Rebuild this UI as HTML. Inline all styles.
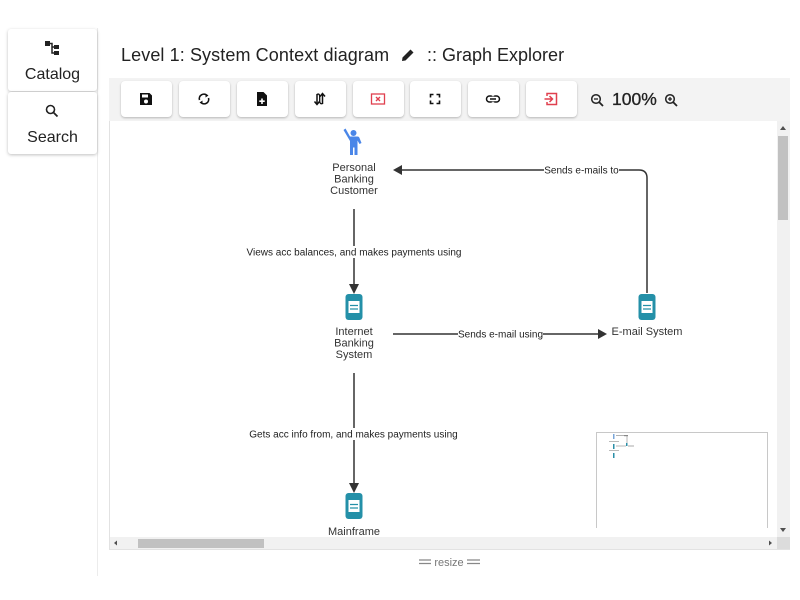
<!DOCTYPE html>
<html><head><meta charset="utf-8"><style>
*{box-sizing:border-box;margin:0;padding:0}
html,body{width:800px;height:600px;overflow:hidden;background:#fff;font-family:"Liberation Sans",Arial,sans-serif;color:#222}
.abs{position:absolute}
.card{position:absolute;left:8px;width:89px;background:#fff;box-shadow:0 1px 3px rgba(0,0,0,0.25);border-radius:3px;text-align:center;font-size:16px;color:#222}
.btn{position:absolute;top:81px;width:51px;height:36px;background:#fff;border-radius:4px;box-shadow:0 1px 2px rgba(0,0,0,0.25)}
.btn svg{position:absolute;left:17px;top:10px}
</style></head><body>
<!-- sidebar -->
<div class="abs" style="left:97px;top:28px;width:1px;height:548px;background:#ececec"></div>
<div class="card" style="top:29px;height:62px">
  <svg class="abs" style="left:37px;top:12px" width="15" height="14" viewBox="0 0 15 14"><rect x="0" y="0" width="5" height="5" fill="#222"/><rect x="9" y="4" width="5" height="4" fill="#222"/><rect x="9" y="10" width="5" height="4" fill="#222"/><path d="M5 2.5H7V12H9M7 6H9" stroke="#222" stroke-width="1.5" fill="none"/></svg>
  <div class="abs" style="left:0;width:89px;top:37px;line-height:18px">Catalog</div>
</div>
<div class="card" style="top:92px;height:62px">
  <svg class="abs" style="left:37px;top:12px" width="14" height="14" viewBox="0 0 14 14"><circle cx="5.5" cy="5.5" r="4" stroke="#222" stroke-width="1.6" fill="none"/><path d="M8.5 8.5L12.5 12.5" stroke="#222" stroke-width="1.8"/></svg>
  <div class="abs" style="left:0;width:89px;top:37px;line-height:18px">Search</div>
</div>
<!-- title -->
<div class="abs" style="left:121px;top:44px;font-size:18px;line-height:22px;color:#222;white-space:nowrap;letter-spacing:0.1px">Level 1: System Context diagram</div>
<svg class="abs" style="left:400px;top:47px" width="16" height="16" viewBox="0 0 16 16"><path d="M2 14L2.5 10.5L10.5 2.5L13.5 5.5L5.5 13.5Z" fill="#222"/></svg>
<div class="abs" style="left:427px;top:44px;font-size:18px;line-height:22px;color:#222;white-space:nowrap">:: Graph Explorer</div>
<!-- toolbar -->
<div class="abs" style="left:109px;top:78px;width:681px;height:43px;background:#f3f3f3"></div>
<div class="btn" style="left:121px"><svg width="16" height="16" viewBox="0 0 16 16"><path d="M2 2H11.5L14 4.5V14H2Z" fill="#111"/><rect x="4" y="3.5" width="6" height="3" fill="#fff"/><circle cx="8" cy="10.5" r="2" fill="#fff"/></svg></div>
<div class="btn" style="left:179px"><svg width="16" height="16" viewBox="0 0 16 16"><path d="M3.5 9A4.5 4.5 0 0 1 11 4.5" stroke="#111" stroke-width="1.6" fill="none"/><path d="M12.5 7A4.5 4.5 0 0 1 5 11.5" stroke="#111" stroke-width="1.6" fill="none"/><path d="M9.5 2.5L12.5 4.5L9.5 6.5Z" fill="#111"/><path d="M6.5 9.5L3.5 11.5L6.5 13.5Z" fill="#111"/></svg></div>
<div class="btn" style="left:237px"><svg width="16" height="16" viewBox="0 0 16 16"><path d="M3 1H9.5L13 4.5V15H3Z" fill="#111"/><path d="M8 7.5V13M5.3 10.2H10.7" stroke="#fff" stroke-width="1.6"/></svg></div>
<div class="btn" style="left:295px"><svg width="16" height="16" viewBox="0 0 16 16"><path d="M5 3V13M10.5 13V3" stroke="#111" stroke-width="1.5"/><path d="M2.5 10.5L5 13.5L7.5 10.5M8 5.5L10.5 2.5L13 5.5" stroke="#111" stroke-width="1.5" fill="none"/><path d="M5 3.5Q7.7 2 7.7 6V10Q7.7 13.5 10.5 12.5" stroke="#111" stroke-width="1.3" fill="none"/></svg></div>
<div class="btn" style="left:353px"><svg width="16" height="16" viewBox="0 0 16 16"><rect x="1.5" y="3" width="13" height="10" stroke="#e0404f" stroke-width="1.3" fill="none"/><path d="M6 6L10 10M10 6L6 10" stroke="#e0404f" stroke-width="1.4"/></svg></div>
<div class="btn" style="left:410px"><svg width="16" height="16" viewBox="0 0 16 16"><path d="M3.5 6.5V3.5H6.5M9.5 3.5H12.5V6.5M12.5 9.5V12.5H9.5M6.5 12.5H3.5V9.5" stroke="#111" stroke-width="1.6" fill="none"/></svg></div>
<div class="btn" style="left:468px"><svg width="16" height="16" viewBox="0 0 16 16"><rect x="1.5" y="5" width="7" height="6" rx="3" stroke="#111" stroke-width="1.5" fill="none"/><rect x="7.5" y="5" width="7" height="6" rx="3" stroke="#111" stroke-width="1.5" fill="none"/><rect x="6.5" y="5.6" width="3" height="4.8" fill="#fff"/><path d="M5 8H11" stroke="#111" stroke-width="1.5"/></svg></div>
<div class="btn" style="left:526px"><svg width="16" height="16" viewBox="0 0 16 16"><path d="M4 5V2.5H13.5V13.5H4V11" stroke="#e0404f" stroke-width="1.5" fill="none"/><path d="M1.5 8H9.5M6.5 5L9.5 8L6.5 11" stroke="#e0404f" stroke-width="1.5" fill="none"/></svg></div>
<svg class="abs" style="left:590px;top:93px" width="15" height="15" viewBox="0 0 15 15"><circle cx="6" cy="6" r="4.3" stroke="#222" stroke-width="1.5" fill="none"/><path d="M9 9L13 13" stroke="#222" stroke-width="1.8"/><path d="M4 6H8" stroke="#222" stroke-width="1.3"/></svg>
<div class="abs" style="left:612px;top:89px;font-size:17.5px;line-height:20px;color:#222;-webkit-text-stroke:0.3px #222">100%</div>
<svg class="abs" style="left:664px;top:93px" width="15" height="15" viewBox="0 0 15 15"><circle cx="6" cy="6" r="4.3" stroke="#222" stroke-width="1.5" fill="none"/><path d="M9 9L13 13" stroke="#222" stroke-width="1.8"/><path d="M4 6H8M6 4V8" stroke="#222" stroke-width="1.3"/></svg>
<!-- canvas -->
<div class="abs" style="left:109px;top:121px;width:681px;height:429px;border:1px solid #e2e2e2;border-top:none;background:#fff"></div>
<!-- scrollbars -->
<div class="abs" style="left:777px;top:121px;width:13px;height:416px;background:#f1f1f1"></div>
<div class="abs" style="left:778px;top:136px;width:10px;height:84px;background:#c1c1c1"></div>
<div class="abs" style="left:110px;top:537px;width:667px;height:12px;background:#f1f1f1"></div>
<div class="abs" style="left:138px;top:539px;width:126px;height:9px;background:#c1c1c1"></div>
<div class="abs" style="left:777px;top:537px;width:13px;height:12px;background:#dcdcdc"></div>
<svg class="abs" style="left:0;top:0" width="800" height="600">
  <path d="M780 130L783 126L786 130Z" fill="#505050"/>
  <path d="M780 528L783 532L786 528Z" fill="#505050"/>
  <path d="M117 540.5L114 543L117 545.5Z" fill="#505050"/>
  <path d="M769 540.5L772 543L769 545.5Z" fill="#505050"/>
</svg>
<!-- minimap -->
<div class="abs" style="left:596px;top:432px;width:172px;height:96px;border:1px solid #c8c8c8;border-bottom:none;background:#fff"></div>
<svg class="abs" style="left:596px;top:432px" width="172" height="40">
  <rect x="17" y="2" width="1.5" height="5" fill="#7aa6d8"/><path d="M20 3.5H31V13" stroke="#999" stroke-width="0.7" fill="none"/><rect x="28" y="3" width="4" height="1.2" fill="#888"/>
  <rect x="13" y="9" width="10" height="0.8" fill="#aaa"/>
  <rect x="17" y="12" width="1.5" height="5" fill="#2a8fa8"/><path d="M20 14H30" stroke="#999" stroke-width="0.7"/><rect x="30" y="11" width="1.5" height="3" fill="#2a8fa8"/><rect x="32" y="13.5" width="6" height="1" fill="#aaa"/>
  <rect x="13" y="18" width="10" height="0.8" fill="#aaa"/>
  <rect x="17" y="21" width="1.5" height="5" fill="#2a8fa8"/>
</svg>
<!-- diagram -->
<svg class="abs" style="left:0;top:0" width="800" height="600" font-family="Liberation Sans, Arial, sans-serif">
  <defs><clipPath id="c"><rect x="110" y="121" width="667" height="416"/></clipPath></defs>
  <g clip-path="url(#c)">
    <g stroke="#333" stroke-width="1.5" fill="none">
      <path d="M354 209V286"/>
      <path d="M393 334H599"/>
      <path d="M647 293V178Q647 170 639 170H401"/>
      <path d="M354 373V485"/>
    </g>
    <g fill="#333">
      <path d="M349 284H359L354 294Z"/>
      <path d="M598 329V339L607 334Z"/>
      <path d="M402 165V175L393 170Z"/>
      <path d="M349 483H359L354 493Z"/>
    </g>
    <g font-size="10" fill="#222" text-anchor="middle">
      <rect x="246" y="246" width="216" height="12" fill="#fff"/>
      <text x="354" y="255.5">Views acc balances, and makes payments using</text>
      <rect x="458" y="328" width="85" height="12" fill="#fff"/>
      <text x="500.5" y="337.5">Sends e-mail using</text>
      <rect x="544" y="164" width="75" height="12" fill="#fff"/>
      <text x="581.5" y="173.5">Sends e-mails to</text>
      <rect x="248" y="428" width="211" height="12" fill="#fff"/>
      <text x="353.5" y="437.5">Gets acc info from, and makes payments using</text>
    </g>
    <g fill="#4a86e8">
      <circle cx="353.5" cy="133" r="3"/>
      <path d="M343.5 130L345.5 128.5L350 136.5H357.5Q359 136.5 359.5 138L361.5 143L359.5 144L357.5 140.5V155H354.5V147.5H353V155H350V141Z"/>
    </g>
    <g>
      <rect x="345.5" y="294" width="17" height="26" rx="3" fill="#2490a8"/>
      <rect x="348.5" y="301" width="11" height="12" fill="#fff"/>
      <path d="M350 305.5H358M350 309H358" stroke="#2490a8" stroke-width="1.3"/>
      <rect x="638.5" y="294" width="17" height="26" rx="3" fill="#2490a8"/>
      <rect x="641.5" y="301" width="11" height="12" fill="#fff"/>
      <path d="M643 305.5H651M643 309H651" stroke="#2490a8" stroke-width="1.3"/>
      <rect x="345.5" y="493" width="17" height="26" rx="3" fill="#2490a8"/>
      <rect x="348.5" y="500" width="11" height="12" fill="#fff"/>
      <path d="M350 504.5H358M350 508H358" stroke="#2490a8" stroke-width="1.3"/>
    </g>
    <g font-size="11" fill="#333" text-anchor="middle">
      <text x="354" y="171">Personal</text>
      <text x="354" y="182.5">Banking</text>
      <text x="354" y="194">Customer</text>
      <text x="354" y="335">Internet</text>
      <text x="354" y="346.5">Banking</text>
      <text x="354" y="358">System</text>
      <text x="647" y="335">E-mail System</text>
      <text x="354" y="535">Mainframe</text>
    </g>
  </g>
  <g stroke="#888" stroke-width="1.2">
    <path d="M419 560H431M419 563.5H431M467 560H480M467 563.5H480"/>
  </g>
  <text x="449" y="566" font-size="11" fill="#777" text-anchor="middle">resize</text>
</svg>
</body></html>
